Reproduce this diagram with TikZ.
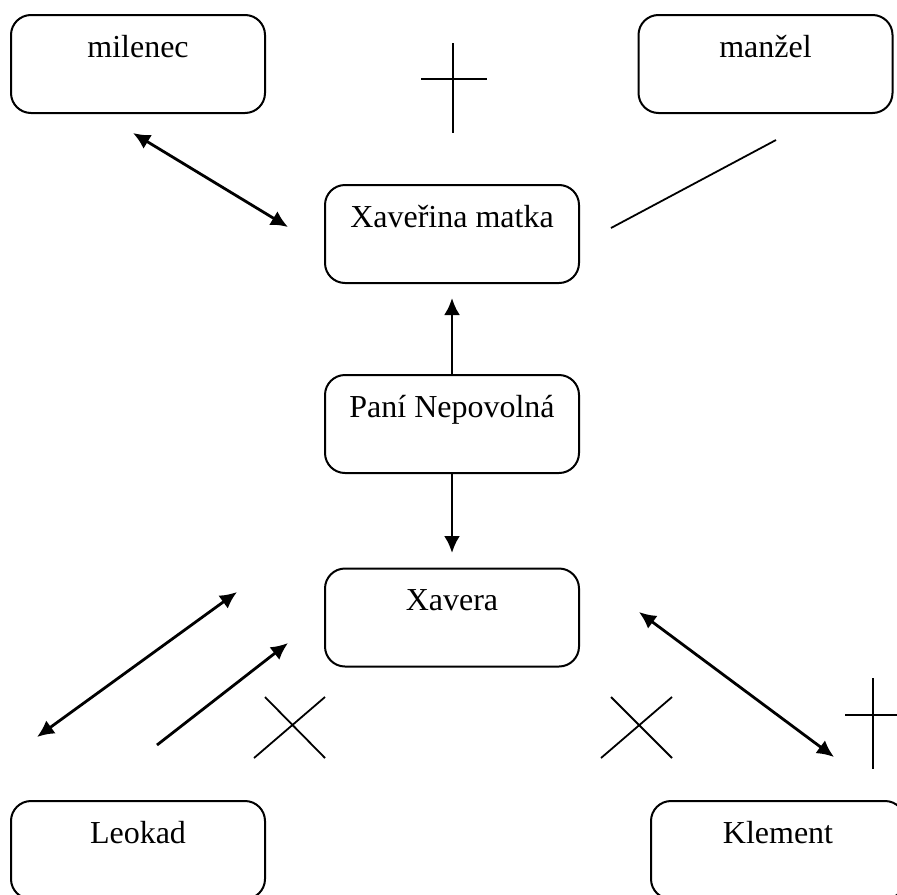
\documentclass[tikz,border=0pt]{standalone}
\usepackage{fontspec}
\setmainfont{Liberation Serif}
\usetikzlibrary{arrows.meta}
\tikzstyle{osoba} = [draw, line width=1pt, rounded corners=10pt, minimum width=127pt, minimum height=49pt, inner sep=0pt, text height=11pt, text depth=18pt, font=\fontsize{16}{18}\selectfont]
\tikzstyle{vazba} = [draw, line width=1.4pt]
\tikzstyle{znak} = [draw, line width=0.9pt]

\begin{document}
\begin{tikzpicture}[x=0.5pt,y=-0.5pt,>={Latex[length=8.5pt,width=8pt]}]
	\useasboundingbox (0,0) rectangle (897,894);
	\clip (0,0) rectangle (897,894);
	% Persons:
	\node[osoba] (milenec) at (138,64) {milenec};
	\node[osoba] (manzel) at (765.5,64) {manžel};
	\node[osoba] (matka) at (452,234) {Xaveřina matka};
	\node[osoba] (nepovolna) at (452,424) {Paní Nepovolná};
	\node[osoba] (xavera) at (452,617.5) {Xavera};
	\node[osoba] (leokad) at (138,850) {Leokad};
	\node[osoba] (klement) at (778,850) {Klement};
	% Free ends:
	\coordinate (m1) at (133,133);
	\coordinate (m2) at (288,227);
	\coordinate (z1) at (611,228);
	\coordinate (z2) at (776,140);
	\coordinate (t1) at (452,298);
	\coordinate (t2) at (452,553);
	\coordinate (l1) at (37,737);
	\coordinate (l2) at (237,592);
	\coordinate (l3) at (157,745);
	\coordinate (l4) at (288,643);
	\coordinate (k1) at (639,612);
	\coordinate (k2) at (834,757);
	% Marks:
	\coordinate (kriz1) at (453,79);
	\coordinate (kriz2) at (873,715);
	\coordinate (x1) at (291,727);
	\coordinate (x2) at (638,727);
	% Relations:
	\draw[vazba,<->] (m1) -- (m2);
	\draw[znak] (z1) -- (z2);
	\draw[vazba,->] (nepovolna.north) -- (t1);
	\draw[vazba,->] (nepovolna.south) -- (t2);
	\draw[vazba,<->] (l1) -- (l2);
	\draw[vazba,->] (l3) -- (l4);
	\draw[vazba,<->] (k1) -- (k2);
	% Crosses:
	\draw[znak] (kriz1) ++(0,-36) -- ++(0,90) (kriz1) ++(-32,0) -- ++(66,0);
	\draw[znak] (kriz2) ++(0,-37) -- ++(0,91) (kriz2) ++(-28,0) -- ++(62,0);
	\draw[znak] (x1) ++(-37,31) -- ++(71,-61) (x1) ++(-26,-30) -- ++(60,61);
	\draw[znak] (x2) ++(-37,31) -- ++(71,-61) (x2) ++(-27,-30) -- ++(61,61);
\end{tikzpicture}
\end{document}
